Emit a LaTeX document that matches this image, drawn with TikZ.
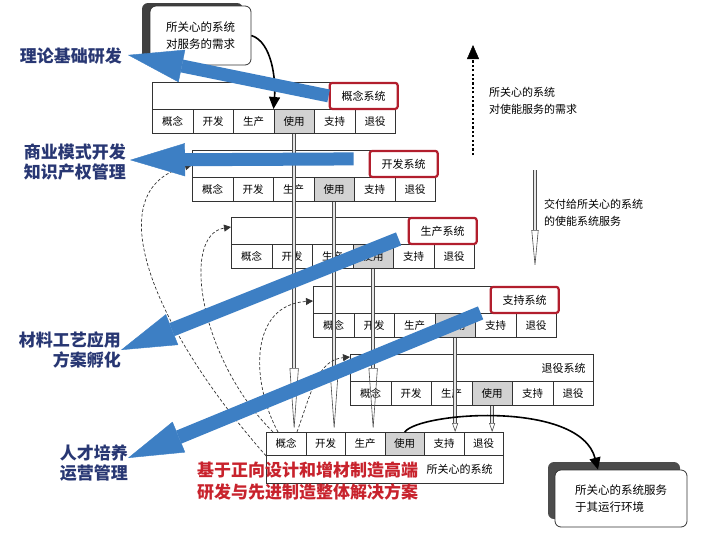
\documentclass[tikz,border=0pt]{standalone}
\usepackage{fontspec}
\setmainfont{Noto Sans CJK SC}
\usepackage{tikz}
\usetikzlibrary{arrows.meta,shadows}

\definecolor{flowblue}{RGB}{61,127,196}
\definecolor{fieldnavy}{RGB}{40,55,115}
\definecolor{boxred}{RGB}{178,30,45}
\definecolor{goalred}{RGB}{200,35,45}

\tikzset{
  header/.style={draw=black!80, line width=0.8pt, fill=white, anchor=north west,
    minimum width=243pt, minimum height=27pt, inner sep=0pt},
  cell/.style={draw=black!80, line width=0.8pt, anchor=north west, minimum width=40.5pt,
    minimum height=24pt, inner sep=0pt, font=\fontsize{10.5}{12}\selectfont},
  sysbox/.style={draw=boxred, line width=2.2pt, rounded corners=2.5pt, fill=white,
    minimum width=68pt, minimum height=26pt, inner sep=1pt, font=\fontsize{11}{12}\selectfont},
  sysname/.style={inner sep=0pt, font=\fontsize{11}{12}\selectfont},
  needbox/.style={draw=black!80, line width=0.8pt, fill=white, rounded corners=6pt, align=left,
    minimum width=101pt, minimum height=59pt, font=\fontsize{11.5}{17}\selectfont},
  note/.style={inner sep=0pt, align=left, font=\fontsize{11}{17}\selectfont},
  shaft/.style={draw=black!70, line width=0.6pt, double=gray!20, double distance=2.4pt},
  fb/.style={draw=black!80, line width=0.7pt, dash pattern=on 3pt off 2pt,
    -{Triangle[length=7pt,width=7pt]}},
  curvearrow/.style={line width=1.6pt, -{Triangle[length=12pt,width=11pt]}},
  flow/.style={draw=flowblue, line width=13pt, -{Triangle[length=55pt,width=33pt,line width=0.4pt]}},
  field/.style={inner sep=0pt, text=fieldnavy, align=right, font=\bfseries\fontsize{17}{20}\selectfont},
  goal/.style={inner sep=0pt, text=goalred, align=left, font=\bfseries\fontsize{17}{22}\selectfont}
}

\begin{document}
\begin{tikzpicture}[x=1pt, y=-1pt]
\useasboundingbox (0,0) rectangle (728,538);
% Life-cycle blocks of the enabling systems
\foreach \i/\bx/\by in {1/152/82, 2/192/150, 3/231/217, 4/313/286, 5/350/354}{
  \node[header] (h\i) at (\bx,\by) {};
  \foreach \c/\f [count=\j] in {概念/white,开发/white,生产/white,使用/gray!35,支持/white,退役/white}
    \node[cell, fill=\f] (b\i-\j) at (\bx+40.5*\j-40.5,\by+27) {\c};
}
% System of interest
\node[header, minimum width=237pt, minimum height=28pt] (h6) at (266,455) {};
\foreach \c/\f [count=\j] in {概念/white,开发/white,生产/white,使用/gray!35,支持/white,退役/white}
  \node[cell, fill=\f, minimum width=39.5pt, minimum height=23pt] (b6-\j) at (266+39.5*\j-39.5,432) {\c};
% System names
\foreach \i/\t in {1/概念系统, 2/开发系统, 3/生产系统, 4/支持系统}
  \node[sysbox, anchor=east] (n\i) at ([xshift=3pt]h\i.east) {\t};
\node[sysname, anchor=east] (n5) at ([xshift=-8pt]h5.east) {退役系统};
\node[sysname, anchor=east] (n6) at ([xshift=-11pt]h6.east) {所关心的系统};
% Services handed down
\foreach \i/\j in {1/1, 2/2, 3/3}
  \draw[shaft, -{Triangle[open,length=64pt,width=9pt]}] (b\i-4.south) -- (b\i-4.south |- b6-\j.north);
\foreach \i/\j in {4/5, 5/6}
  \draw[shaft, -{Triangle[open,length=9pt,width=6pt]}] (b\i-4.south) -- (b\i-4.south |- b6-\j.north);
% Feedback
\draw[fb] (b6-1.south west) .. controls (155,330) and (95,190) .. ([shift={(0,15)}]h2.north west);
\draw[fb] ([shift={(7,0)}]b6-1.north west) .. controls (200,360) and (180,235) .. ([shift={(0,10)}]h3.north west);
\draw[fb] ([shift={(12,0)}]b6-1.north west) .. controls (250,380) and (250,305) .. ([shift={(0,15)}]h4.north west);
\draw[fb] ([shift={(31,0)}]b6-1.north west) .. controls (312,390) and (318,360) .. ([shift={(0,3)}]h5.north west);
% Need and operating environment
\node[needbox, general shadow={fill=black!75, shadow xshift=-8pt, shadow yshift=3pt}] (need) at (200.5,35.5)
  {所关心的系统\\对服务的需求};
\draw[curvearrow] (need.east) .. controls (272,42) and (276,80) .. (b1-4.north west);
\node[needbox, minimum width=132pt, minimum height=57pt,
  general shadow={fill=black!70, shadow xshift=-7pt, shadow yshift=8pt}] (env) at (621,498.5)
  {所关心的系统服务\\于其运行环境};
\draw[curvearrow] (b6-4.north) .. controls (420,412) and (580,400) .. ([xshift=-23pt]env.north);
% Right-hand notes
\coordinate (up0) at (473,155);
\coordinate (up1) at (473,45);
\draw[line width=2.8pt, dash pattern=on 2.2pt off 2.2pt,
  -{Triangle[length=14pt,width=12pt,line width=0.4pt]}] (up0) -- (up1);
\node[note, anchor=west] (upnote) at (489,101) {所关心的系统\\对使能服务的需求};
\coordinate (dn0) at (535,170);
\coordinate (dn1) at (535,268);
\draw[shaft, -{Triangle[open,length=38pt,width=7pt]}] (dn0) -- (dn1);
\node[note, anchor=west] (dnnote) at (544,213) {交付给所关心的系统\\的使能系统服务};
% Innovation fields
\node[field, anchor=east] (t1) at (122,56) {理论基础研发};
\node[field, anchor=east] (t2) at (126,162) {商业模式开发\\知识产权管理};
\node[field, anchor=east] (t3) at (121,350) {材料工艺应用\\方案孵化};
\node[field, anchor=east] (t4) at (128,463) {人才培养\\运营管理};
\draw[flow] (n1.west) -- ([shift={(6,-1)}]t1.east);
\draw[flow] ([shift={(-15,-5)}]n2.west) -- ([shift={(4,-2)}]t2.east);
\draw[flow, line width=14pt] ([shift={(-9,8)}]n3.west) -- (t3.east);
\draw[flow, line width=14pt] ([shift={(-9,13)}]n4.west) -- ([shift={(0,-5)}]t4.east);
\node[goal, anchor=west] (goal) at (197,481) {基于正向设计和增材制造高端\\研发与先进制造整体解决方案};
\end{tikzpicture}
\end{document}
